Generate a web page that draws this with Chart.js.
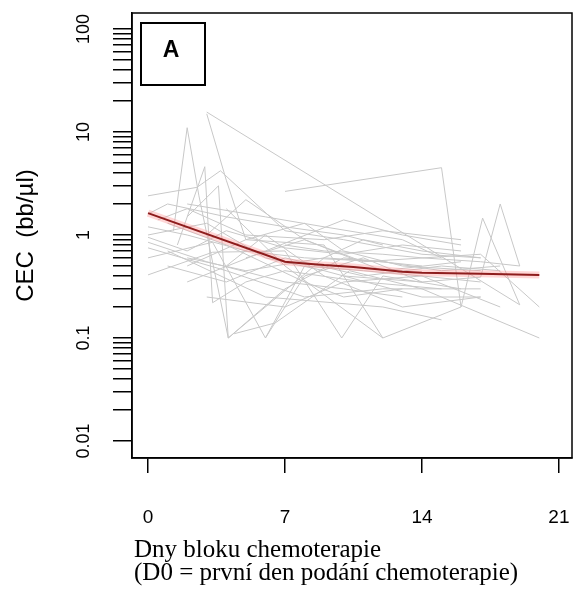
<!DOCTYPE html>
<html><head><meta charset="utf-8">
<script src="https://cdn.jsdelivr.net/npm/chart.js@4.4.0/dist/chart.umd.min.js"></script>
<style>html,body{margin:0;padding:0;background:#fff;} canvas{display:block;}</style>
</head><body>
<canvas id="c" width="576" height="601"></canvas>
<script>
// ---- data: each patient = [day, CEC value] ----
const patient01 = [[0,2.4],[2.5,2.9],[3.7,4.2],[7,1.1],[10,0.9],[14,0.65],[17,0.6]];
const patient02 = [[3,15.6],[19,0.21]];
const patient03 = [[1.3,1.1],[2,11],[2.6,2.4],[4.1,0.1],[9,0.6],[12,0.55]];
const patient04 = [[3,15],[4,3.4],[5,0.9],[8,1.3],[10,0.7],[13,0.5],[17,0.45]];
const patient05 = [[1.5,0.8],[2.9,4.6],[3.3,0.22],[5,0.35],[7,0.45],[11,0.35],[15,0.3]];
const patient06 = [[0,0.6],[3.3,0.85],[6,0.1],[8,0.5],[11,0.45],[14,0.4],[17,0.35]];
const patient07 = [[0,0.41],[3.3,0.68],[7,0.7],[9.9,0.1],[12,0.4],[16,0.3]];
const patient08 = [[0,1.2],[2,1.0],[5,0.7],[8,0.6],[12,0.55],[15,0.45],[18,0.5]];
const patient09 = [[0,0.85],[3,0.55],[7,0.35],[10,0.3],[13,0.25]];
const patient10 = [[0,1.6],[1,2.0],[4,1.5],[7,1.2],[10,1.0],[12,0.8]];
const patient11 = [[4.4,0.11],[6.5,0.14],[10.3,0.45],[14,0.3],[20,0.1]];
const patient12 = [[2,0.5],[5,0.9],[9,0.8],[12,0.1],[16,0.2]];
const patient13 = [[7,2.65],[15,4.5],[16,0.2],[17.1,1.46],[19,0.21]];
const patient14 = [[10,0.4],[14,0.35],[17,0.39],[18,2.0],[19,0.5]];
const patient15 = [[3,0.25],[7,0.2],[10,0.35],[14,0.4],[18,0.2]];
const patient16 = [[1,1.3],[4,0.8],[8,0.35],[10,0.25],[13,0.3]];
const patient17 = [[2,0.6],[5,0.45],[9,0.6],[11,0.9],[14,0.7],[17,0.6]];
const patient18 = [[0,1.0],[3,1.3],[6,0.6],[9,0.45],[14,0.25],[17,0.25]];
const patient19 = [[4,1.8],[7,0.5],[12,0.1]];
const patient20 = [[2,2.0],[6,1.5],[9,1.2],[13,0.9],[15,0.6]];
const patient21 = [[1,0.7],[6,0.25],[12,0.2],[15,0.15]];
const patient22 = [[5,0.6],[8,0.9],[11,0.55],[17,0.65],[20,0.2]];
const patient23 = [[2,1.5],[3.6,3.0],[4.1,0.1],[7,0.3],[10,0.6],[14,0.5]];
const patient24 = [[6,0.1],[8,0.4],[11,0.6],[14,0.35]];
const patient25 = [[0.5,1.4],[2,1.8],[5,1.0],[9,0.9],[12,1.1],[16,0.9]];
const patient26 = [[7,0.8],[9,0.7],[12,0.65],[14,0.6],[17,0.55],[19,0.5]];
const patient27 = [[0,0.95],[2,0.7],[4,1.1],[7,0.75],[10,0.65],[13,0.8],[16,0.7]];
const patient28 = [[1,0.5],[4,0.35],[7,0.6],[11,0.4],[15,0.5],[18,0.45]];
const patient29 = [[3,1.0],[5,2.2],[8,0.9],[12,0.45],[16,0.55]];
const patient30 = [[0,0.75],[4,0.45],[8,0.25],[12,0.3],[17,0.3]];
const patient31 = [[2,0.35],[6,0.7],[10,1.4],[13,1.0],[16,0.8]];
const patient32 = [[4,0.5],[6,1.0],[9,0.4],[13,0.2],[17,0.25]];
const patients = [patient01,patient02,patient03,patient04,patient05,patient06,patient07,patient08,
  patient09,patient10,patient11,patient12,patient13,patient14,patient15,patient16,patient17,
  patient18,patient19,patient20,patient21,patient22,patient23,patient24,patient25,patient26,
  patient27,patient28,patient29,patient30,patient31,patient32];

const meanDays   = [0, 7, 8, 9, 10.5, 12, 13, 14, 17, 20];
const meanValues = [1.63, 0.55, 0.53, 0.51, 0.49, 0.46, 0.44, 0.43, 0.42, 0.41];

const xTickValues = [0, 7, 14, 21];
const xTickLabels = ['0', '7', '14', '21'];
const yMajorTicks = [0.01, 0.1, 1, 10, 100];
const yTickLabels = ['0.01', '0.1', '1', '10', '100'];
const panelLabel = 'A';
const yTitle = 'CEC  (bb/µl)';
const xTitle = ['Dny bloku chemoterapie', '(D0 = první den podání chemoterapie)'];

// all log-axis tick marks (1..9 per decade)
const yAllTicks = [];
yMajorTicks.forEach((d, i) => {
  if (i < yMajorTicks.length - 1) { for (let k = 1; k <= 9; k++) yAllTicks.push(+(d * k).toPrecision(3)); }
  else yAllTicks.push(d);
});

const toPts = arr => arr.map(([x, y]) => ({x, y}));
const datasets = patients.map(p => ({
  data: toPts(p), borderColor: '#c8c8c8', borderWidth: 1, pointRadius: 0, showLine: true, order: 3
}));
const meanPts = meanDays.map((d, i) => ({x: d, y: meanValues[i]}));
datasets.push({data: meanPts, borderColor: 'rgba(255,140,140,0.35)', borderWidth: 7, pointRadius: 0, showLine: true, order: 2});
datasets.push({data: meanPts, borderColor: '#8e1d1d', borderWidth: 2, pointRadius: 0, showLine: true, order: 1});

const SANS = '"Liberation Sans", Arial, sans-serif';
const SERIF = '"Liberation Serif", "Times New Roman", serif';

const textPlugin = {
  id: 'texts',
  afterDraw(chart) {
    const ctx = chart.ctx;
    const {left, top, right, bottom} = chart.chartArea;
    const xs = chart.scales.x, ys = chart.scales.y;
    ctx.save();
    ctx.strokeStyle = '#000';
    ctx.lineWidth = 1.5;
    ctx.strokeRect(left, top, right - left, bottom - top);
    // panel label box
    ctx.lineWidth = 2;
    ctx.strokeRect(left + 9, top + 10, 64, 62);
    ctx.fillStyle = '#000';
    ctx.font = 'bold 23px ' + SANS;
    ctx.textAlign = 'center';
    ctx.textBaseline = 'middle';
    ctx.fillText(panelLabel, left + 39, top + 38);
    // y tick labels (rotated)
    ctx.textBaseline = 'alphabetic';
    ctx.font = '18px ' + SANS;
    yMajorTicks.forEach((v, i) => {
      const py = ys.getPixelForValue(v);
      ctx.save(); ctx.translate(89, py); ctx.rotate(-Math.PI / 2);
      ctx.fillText(yTickLabels[i], 0, 0); ctx.restore();
    });
    // x tick labels
    ctx.font = '19px ' + SANS;
    xTickValues.forEach((v, i) => ctx.fillText(xTickLabels[i], xs.getPixelForValue(v), 523));
    // y title
    ctx.font = '24px ' + SANS;
    ctx.save(); ctx.translate(33, (top + bottom) / 2); ctx.rotate(-Math.PI / 2);
    ctx.fillText(yTitle, 0, 0); ctx.restore();
    // x title
    ctx.font = '25px ' + SERIF;
    ctx.textAlign = 'left';
    ctx.fillText(xTitle[0], 134, 557);
    ctx.fillText(xTitle[1], 134, 580);
    ctx.restore();
  }
};

new Chart(document.getElementById('c'), {
  type: 'scatter',
  data: {datasets},
  options: {
    responsive: false, animation: false, devicePixelRatio: 1,
    layout: {padding: {left: 113, right: 4, top: 13, bottom: 128}},
    plugins: {legend: {display: false}, tooltip: {enabled: false}},
    elements: {line: {tension: 0}},
    scales: {
      x: {
        type: 'linear', min: -0.82, max: 21.67, bounds: 'data',
        afterBuildTicks: s => { s.ticks = xTickValues.map(v => ({value: v})); },
        grid: {display: true, drawOnChartArea: false, drawTicks: true, tickLength: 15, color: '#000', lineWidth: 1.5},
        border: {display: true, color: '#000', width: 1.5},
        ticks: {display: false}
      },
      y: {
        type: 'logarithmic', min: 0.00684, max: 142.9, bounds: 'data',
        afterBuildTicks: s => { s.ticks = yAllTicks.map(v => ({value: v})); },
        grid: {display: true, drawOnChartArea: false, drawTicks: true, tickLength: 19, color: '#000', lineWidth: 1.5},
        border: {display: true, color: '#000', width: 1.5},
        ticks: {display: false}
      }
    }
  },
  plugins: [textPlugin]
});
</script>
</body></html>
